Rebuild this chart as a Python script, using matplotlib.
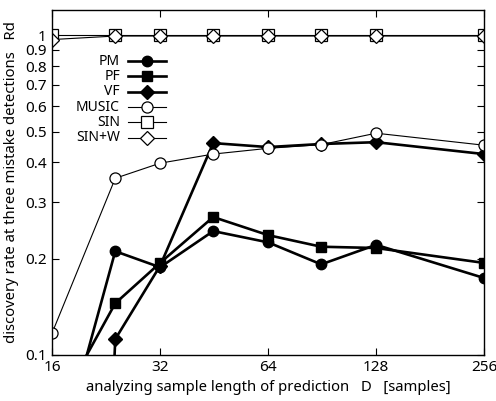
import numpy as np
import matplotlib
matplotlib.use('Agg')
import matplotlib.pyplot as plt
from matplotlib.lines import Line2D
from matplotlib.ticker import FixedLocator, NullLocator, FixedFormatter

plt.rcParams['font.family'] = ['Noto Sans', 'DejaVu Sans']
plt.rcParams['font.size'] = 9.5

# sample length D
d_all = [16, 20, 24, 32, 45, 64, 90, 128, 256]
d_ref = [16, 24, 32, 45, 64, 90, 128, 256]

# discovery rate (values at D=20 sit on / below the lower limit)
pm = [0.1, 0.211, 0.188, 0.244, 0.225, 0.192, 0.221, 0.174]
pf = [0.1, 0.145, 0.194, 0.270, 0.237, 0.218, 0.216, 0.194]
vf = [0.001, 0.112, 0.190, 0.460, 0.447, 0.457, 0.463, 0.425]
music = [0.117, 0.357, 0.398, 0.425, 0.443, 0.455, 0.494, 0.453]
sin = [1.0, 1.0, 1.0, 1.0, 1.0, 1.0, 1.0, 1.0]
sin_w = [0.97, 0.995, 0.995, 0.995, 0.995, 0.995, 0.995, 0.995]

xticks = [16, 32, 64, 128, 256]
yticks = [0.1, 0.2, 0.3, 0.4, 0.5, 0.6, 0.7, 0.8, 0.9, 1.0]
ytick_labels = ['0.1', '0.2', '0.3', '0.4', '0.5', '0.6', '0.7', '0.8', '0.9', '1']

ymin, ymax = 0.1, 1.2

fig = plt.figure(figsize=(4.96, 4.01), dpi=100)
ax = fig.add_axes([0.105, 0.115, 0.871, 0.86])


def visible(vals):
    return [i for i, v in enumerate(vals) if v > ymin]


thick = dict(color='black', lw=1.9, markersize=7.5)
thin = dict(color='black', lw=0.8, markersize=8, markerfacecolor='white',
            markeredgewidth=0.9)

series = [
    ('PM', d_all[1:], pm, 'o', thick),
    ('PF', d_all[1:], pf, 's', thick),
    ('VF', d_all[1:], vf, 'D', dict(thick, markersize=7)),
    ('MUSIC', d_ref, music, 'o', thin),
    ('SIN', d_ref, sin, 's', thin),
    ('SIN+W', d_ref, sin_w, 'D', dict(thin, markersize=7.5)),
]

for name, xs, ys, mk, st in series:
    ax.plot(xs, ys, marker=mk, markevery=visible(ys), **st)

ax.set_xscale('log', base=2)
ax.set_yscale('log')
ax.set_xlim(16, 256)
ax.set_ylim(ymin, ymax)

ax.xaxis.set_major_locator(FixedLocator(xticks))
ax.xaxis.set_major_formatter(FixedFormatter([str(x) for x in xticks]))
ax.xaxis.set_minor_locator(NullLocator())
ax.yaxis.set_major_locator(FixedLocator(yticks))
ax.yaxis.set_major_formatter(FixedFormatter(ytick_labels))
ax.yaxis.set_minor_locator(NullLocator())

ax.tick_params(direction='in', length=5, width=0.8, top=True, right=True,
               labelsize=11, pad=4)
for s in ax.spines.values():
    s.set_linewidth(1.0)

ax.set_xlabel('analyzing sample length of prediction   D   [samples]',
              fontsize=10.7, labelpad=3)
ax.set_ylabel('discovery rate at three mistake detections   Rd',
              fontsize=10.7, labelpad=4)

# key: right-aligned names followed by a line sample
key_y0, key_dy = 0.852, 0.0445
for i, (name, xs, ys, mk, st) in enumerate(series):
    y = key_y0 - i * key_dy
    ax.text(0.157, y, name, transform=ax.transAxes, ha='right', va='center',
            fontsize=10)
    ax.add_line(Line2D([0.176, 0.264], [y, y], transform=ax.transAxes,
                       **{k: v for k, v in st.items() if k != 'markersize'}))
    ax.add_line(Line2D([0.220], [y], transform=ax.transAxes, marker=mk,
                       linestyle='none', **{k: v for k, v in st.items()
                                            if k != 'lw'}))

fig.savefig('out.png', dpi=100)
